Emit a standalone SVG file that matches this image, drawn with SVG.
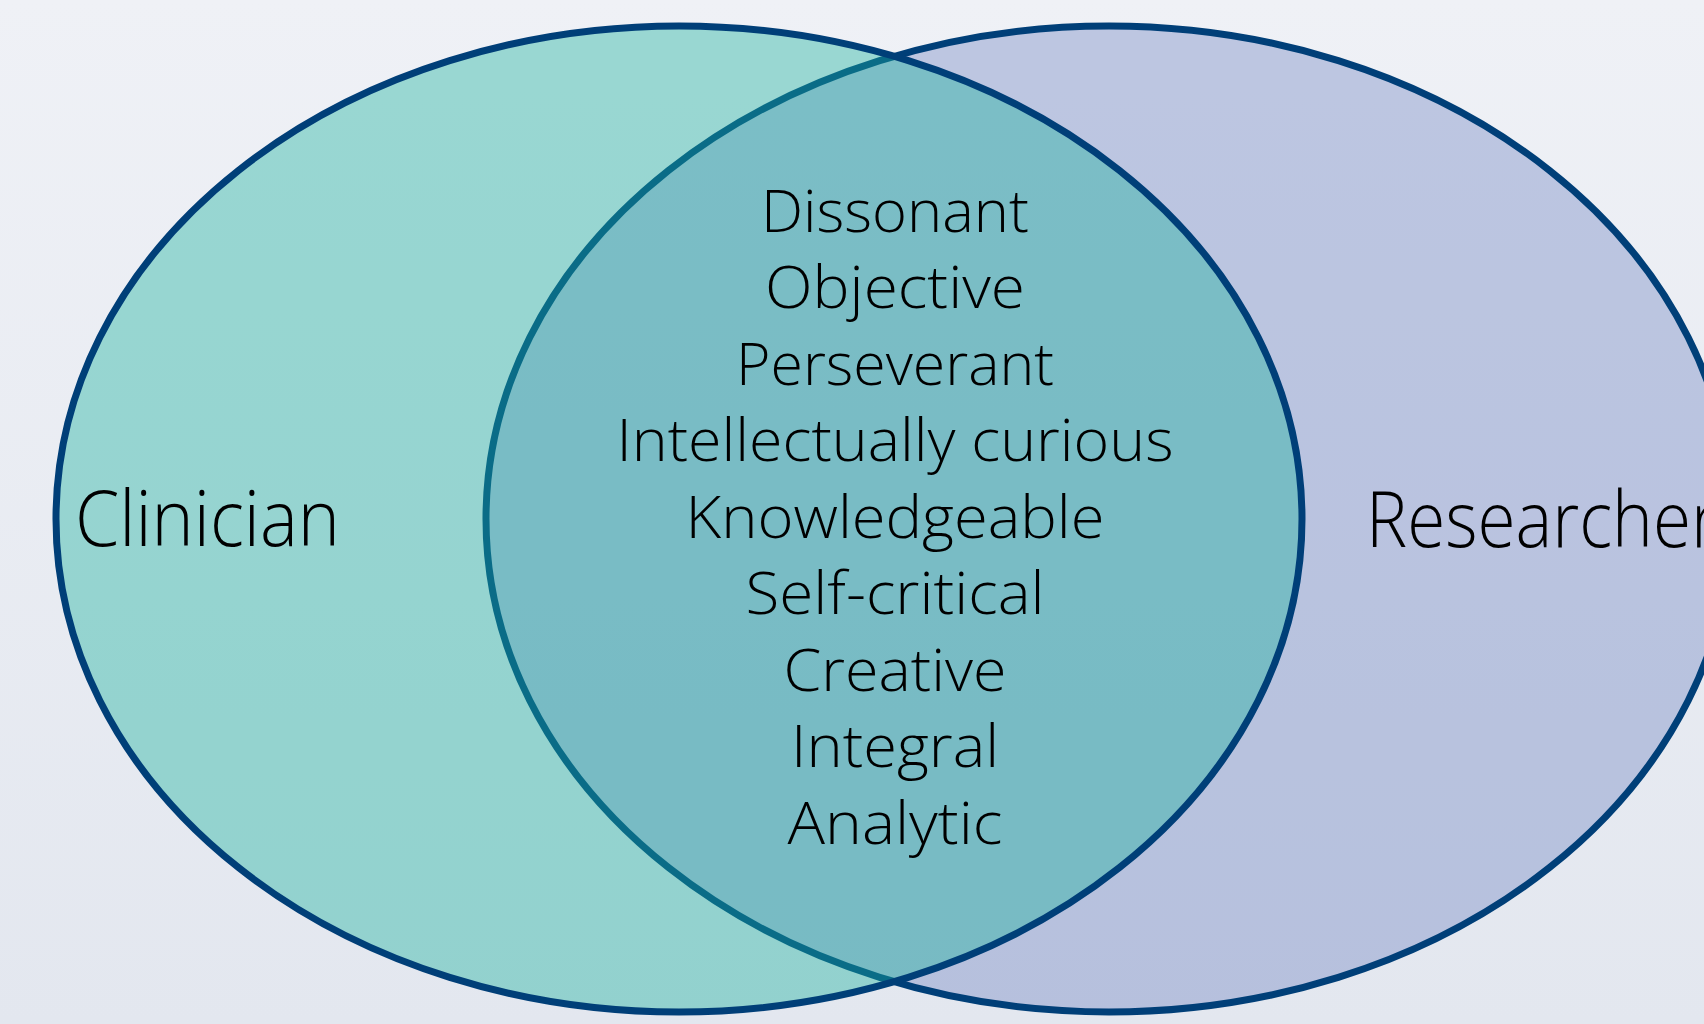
<svg xmlns="http://www.w3.org/2000/svg" width="1704" height="1024" viewBox="0 0 1704 1024">
  <defs>
    <linearGradient id="bg" x1="0" y1="0" x2="0" y2="1">
      <stop offset="0" stop-color="#EFF1F6"/>
      <stop offset="1" stop-color="#E3E7EF"/>
    </linearGradient>
    <style>
      .ring { stroke: #003F78; stroke-width: 7; }
      .lbl { font-family: "Open Sans", "Noto Sans", "DejaVu Sans", sans-serif; font-weight: 350; fill: #000000; }
      .side { font-size: 78px; }
      .mid { font-size: 58px; text-anchor: middle; }
    </style>
  </defs>
  <rect x="0" y="0" width="1704" height="1024" fill="url(#bg)"/>
  <g id="researcher">
    <ellipse cx="1109" cy="519" rx="623" ry="493" fill="#7286C4" fill-opacity="0.4" class="ring"/>
    <text class="lbl side" x="1366" y="547" textLength="352" lengthAdjust="spacingAndGlyphs">Researcher</text>
  </g>
  <g id="clinician">
    <ellipse cx="679" cy="519" rx="623" ry="493" fill="#18B29E" fill-opacity="0.4" class="ring"/>
    <text class="lbl side" x="75" y="546" textLength="265" lengthAdjust="spacingAndGlyphs">Clinician</text>
  </g>
  <g id="connectors"></g>
  <g id="overlap">
    <text class="lbl mid" x="895" y="231.5" textLength="268" lengthAdjust="spacingAndGlyphs">Dissonant</text>
    <text class="lbl mid" x="895" y="308" textLength="260" lengthAdjust="spacingAndGlyphs">Objective</text>
    <text class="lbl mid" x="895" y="384.5" textLength="318" lengthAdjust="spacingAndGlyphs">Perseverant</text>
    <text class="lbl mid" x="895" y="461" textLength="557" lengthAdjust="spacingAndGlyphs">Intellectually curious</text>
    <text class="lbl mid" x="895" y="537.5" textLength="419" lengthAdjust="spacingAndGlyphs">Knowledgeable</text>
    <text class="lbl mid" x="895" y="614" textLength="299" lengthAdjust="spacingAndGlyphs">Self-critical</text>
    <text class="lbl mid" x="895" y="690.5" textLength="223" lengthAdjust="spacingAndGlyphs">Creative</text>
    <text class="lbl mid" x="895" y="767" textLength="208" lengthAdjust="spacingAndGlyphs">Integral</text>
    <text class="lbl mid" x="895" y="843.5" textLength="215" lengthAdjust="spacingAndGlyphs">Analytic</text>
  </g>
</svg>
